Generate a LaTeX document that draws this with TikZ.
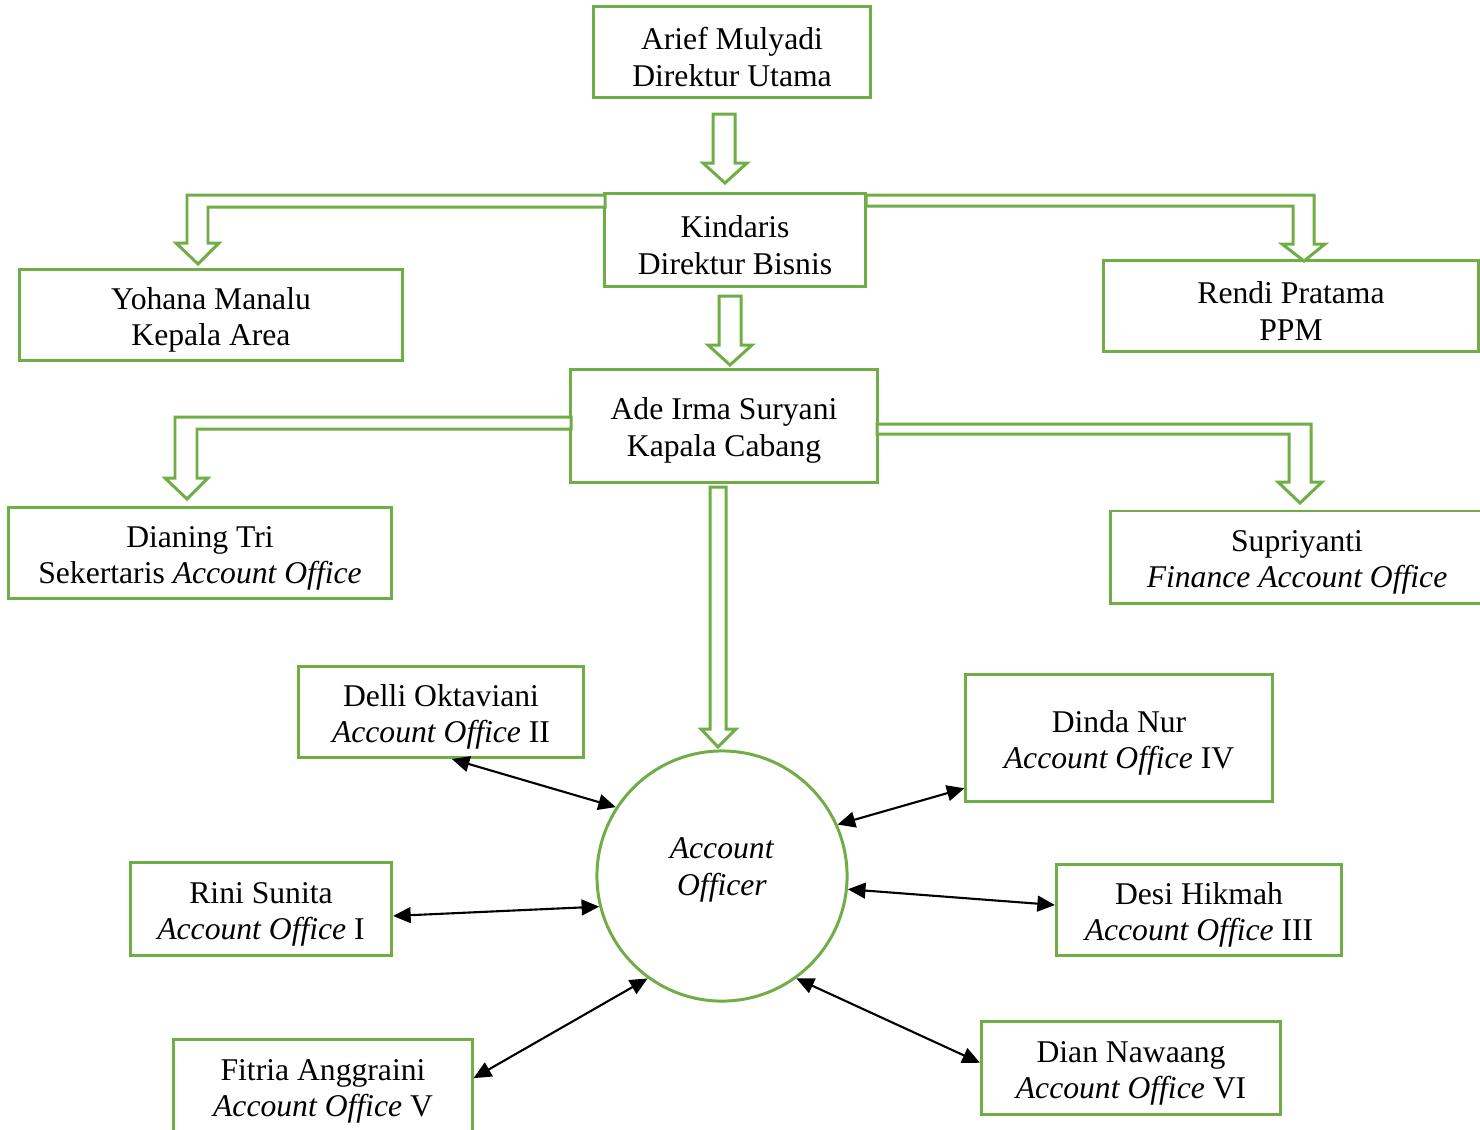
\documentclass[tikz,border=0pt]{standalone}
\usepackage{fontspec}
\setmainfont{Liberation Serif}
\usetikzlibrary{arrows.meta}
\definecolor{hijau}{RGB}{112,173,71}

\begin{document}
\begin{tikzpicture}[x=0.01cm,y=-0.01cm,
    kotak/.style={draw=hijau, line width=0.85pt, align=center, inner sep=0pt, font=\fontsize{9}{10.5}\selectfont},
    jabatan/.style={kotak, execute at begin node={\rule{0pt}{19.5pt}}},
    lingkaran/.style={kotak, circle, execute at begin node={\rule[-5.5pt]{0pt}{0pt}}},
    blok/.style={draw=hijau, line width=0.85pt, fill=white},
    panah/.style={{Triangle[length=5pt,width=4.5pt]}-{Triangle[length=5pt,width=4.5pt]}, line width=0.6pt}]
    \useasboundingbox (0,0) rectangle (1480,1129);

    % Kotak jabatan
    \node[jabatan, minimum width=2.77cm, minimum height=0.91cm] (arief) at (732,52) {Arief Mulyadi\\Direktur Utama};
    \node[jabatan, minimum width=2.61cm, minimum height=0.92cm] (kin) at (735,240) {Kindaris\\Direktur Bisnis};
    \node[jabatan, minimum width=3.83cm, minimum height=0.91cm] (yoh) at (211,315) {Yohana Manalu\\Kepala Area};
    \node[jabatan, minimum width=3.74cm, minimum height=0.91cm] (rendi) at (1291,306) {Rendi Pratama\\PPM};
    \node[jabatan, minimum width=3.06cm, minimum height=1.13cm] (ade) at (724,426) {Ade Irma Suryani\\Kapala Cabang};
    \node[jabatan, minimum width=3.83cm, minimum height=0.91cm] (dian1) at (200,553) {Dianing Tri\\Sekertaris \textit{Account Office}};
    \node[jabatan, minimum width=3.72cm, minimum height=0.92cm] (supri) at (1297,557) {Supriyanti\\\textit{Finance Account Office}};

    % Account Officer
    \node[lingkaran, minimum size=2.5cm] (ao) at (722,876) {\textit{Account}\\\textit{Officer}};
    \node[jabatan, minimum width=2.85cm, minimum height=0.91cm] (delli) at (441,712) {Delli Oktaviani\\\textit{Account Office} II};
    \node[jabatan, minimum width=3.06cm, minimum height=1.26cm] (dinda) at (1119,738) {Dinda Nur\\\textit{Account Office} IV};
    \node[jabatan, minimum width=2.61cm, minimum height=0.93cm] (rini) at (261,909) {Rini Sunita\\\textit{Account Office} I};
    \node[jabatan, minimum width=2.85cm, minimum height=0.91cm] (desi) at (1199,910) {Desi Hikmah\\\textit{Account Office} III};
    \node[jabatan, minimum width=2.98cm, minimum height=0.94cm] (fitria) at (323,1086) {Fitria Anggraini\\\textit{Account Office} V};
    \node[jabatan, minimum width=2.99cm, minimum height=0.93cm] (dian) at (1131,1068) {Dian Nawaang\\\textit{Account Office} VI};

    % Panah turun
    \draw[blok] (713,114) -- (735,114) -- (735,163) -- (747,163) -- (725,183) -- (703,163) -- (713,163) -- cycle;
    \draw[blok] (719,296) -- (741,296) -- (741,345) -- (752,345) -- (730,365) -- (708,345) -- (719,345) -- cycle;
    \draw[blok] (710,487) -- (726,487) -- (726,729) -- (736,729) -- (718,747) -- (701,729) -- (710,729) -- cycle;

    % Panah bercabang
    \draw[blok] (605,195) -- (187,195) -- (187,243) -- (176,243) -- (198,264) -- (219,243) -- (208,243) -- (208,207) -- (605,207) -- cycle;
    \draw[blok] (866,195) -- (1314,195) -- (1314,244) -- (1325,244) -- (1304,261) -- (1282,244) -- (1293,244) -- (1293,206) -- (866,206) -- cycle;
    \draw[blok] (571,417) -- (175,417) -- (175,478) -- (165,478) -- (187,499) -- (208,478) -- (197,478) -- (197,429) -- (571,429) -- cycle;
    \draw[blok] (877,424) -- (1311,424) -- (1311,482) -- (1322,482) -- (1300,503) -- (1278,482) -- (1289,482) -- (1289,434) -- (877,434) -- cycle;

    % Panah dua arah
    \draw[panah] (delli.-77) -- (ao.147);
    \draw[panah] (ao.24) -- (dinda.198);
    \draw[panah] (rini.-3) -- (ao.194);
    \draw[panah] (ao.-6) -- (desi.178);
    \draw[panah] (fitria.3) -- (ao.-126);
    \draw[panah] (ao.-54) -- (dian.178);
\end{tikzpicture}
\end{document}
